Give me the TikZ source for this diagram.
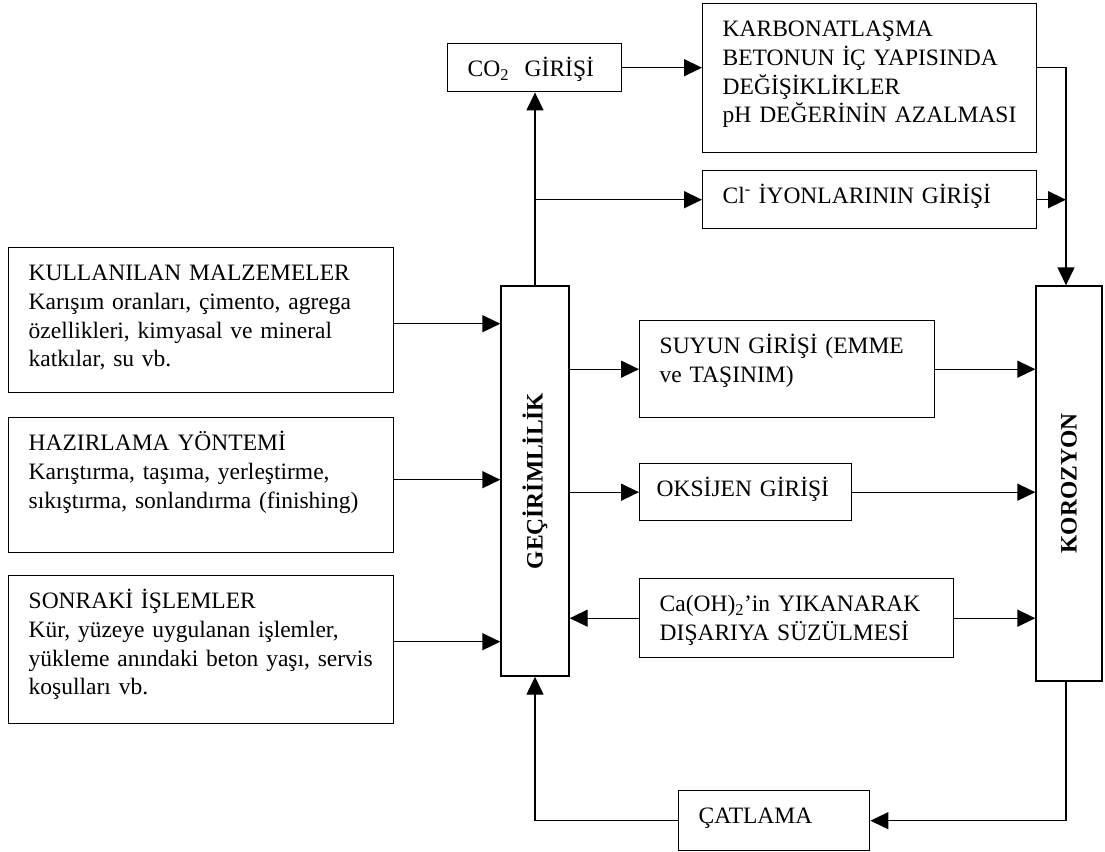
\documentclass[tikz,border=0pt]{standalone}
\usepackage{fontspec}
\setmainfont{Liberation Serif}
\usetikzlibrary{arrows.meta, positioning}
\newcommand{\yazi}{\fontsize{23.5pt}{28.7pt}\selectfont}
\tikzset{
  >={Triangle[length=18pt,width=17pt]}, % filled arrow heads
  % boxes with the text in the top left corner
  box/.style={draw, anchor=north west, align=left, font=\yazi,
    inner xsep=20pt, inner ysep=15pt, text height=18pt},
  % the two tall boxes with turned text
  bar/.style={draw, rotate=90, font=\yazi\bfseries, inner sep=0pt},
}

\begin{document}
\begin{tikzpicture}[x=1pt,y=-1pt,line width=1.4pt]
    \useasboundingbox (0,0) rectangle (1105,851);

    \node[box, text width=345pt, text depth=97pt] (malzeme) at (8,247)
      {KULLANILAN MALZEMELER\\Karışım oranları, çimento, agrega\\özellikleri, kimyasal ve mineral\\katkılar, su vb.};
    \node[box, text width=345pt, text depth=87pt] (hazirlama) at (8,417)
      {HAZIRLAMA YÖNTEMİ\\Karıştırma, taşıma, yerleştirme,\\sıkıştırma, sonlandırma (finishing)};
    \node[box, text width=345pt, text depth=100pt] (islemler) at (8,575)
      {SONRAKİ İŞLEMLER\\Kür, yüzeye uygulanan işlemler,\\yükleme anındaki beton yaşı, servis\\koşulları vb.};

    \node[bar, minimum width=390pt, minimum height=68pt] (gecirim) at (535,481) {GEÇİRİMLİLİK};
    \node[bar, minimum width=395pt, minimum height=66pt] (korozyon) at (1069,483.5) {KOROZYON};

    \node[box, text width=134pt, text depth=0pt] (co2) at (447,43) {CO\textsubscript{2}\ \ GİRİŞİ};
    \node[box, text width=294pt, text depth=101pt] (karbon) at (702,3)
      {KARBONATLAŞMA\\BETONUN İÇ YAPISINDA\\DEĞİŞİKLİKLER\\pH DEĞERİNİN AZALMASI};
    \node[box, text width=294pt, text depth=10pt] (klor) at (702,170) {Cl\textsuperscript{-} İYONLARININ GİRİŞİ};

    \node[box, text width=255pt, text depth=49pt] (su) at (639,320) {SUYUN GİRİŞİ (EMME\\ve TAŞINIM)};
    \node[box, inner xsep=17pt, text width=178pt, text depth=9pt] (oksijen) at (639,463) {OKSİJEN GİRİŞİ};
    \node[box, text width=274pt, text depth=31pt] (yikama) at (639,578)
      {Ca(OH)\textsubscript{2}’in YIKANARAK\\DIŞARIYA SÜZÜLMESİ};
    \node[box, text width=151pt, text depth=12pt] (catlama) at (678,790) {ÇATLAMA};

    \coordinate (dikey) at (1066,0); % right hand line

    % into the permeability box
    \draw[->] ([yshift=-3.5pt]malzeme.east) -- ([yshift=-3.5pt]malzeme.east -| gecirim.north);
    \draw[->] ([yshift=5.5pt]hazirlama.east) -- ([yshift=5.5pt]hazirlama.east -| gecirim.north);
    \draw[->] ([yshift=8pt]islemler.east) -- ([yshift=8pt]islemler.east -| gecirim.north);
    \draw[->] (yikama.west) -- (yikama.west -| gecirim.south);
    \draw[->] (catlama.west) -- (catlama.west -| gecirim.west) -- (gecirim.west);

    % out of the permeability box
    \draw[->] (gecirim.east) -- (gecirim.east |- co2.south);
    \draw[->] (gecirim.east |- klor.west) -- (klor.west);
    \draw[->] (su.west -| gecirim.south) -- (su.west);
    \draw[->] (oksijen.west -| gecirim.south) -- (oksijen.west);

    % towards corrosion
    \draw[->] (co2.east) -- (co2.east -| karbon.west);
    \draw[->] (co2.east -| karbon.east) -- (co2.east -| dikey) -- (dikey |- korozyon.east);
    \draw[->] (klor.east) -- (klor.east -| dikey);
    \draw[->] (su.east) -- (su.east -| korozyon.north);
    \draw[->] (oksijen.east) -- (oksijen.east -| korozyon.north);
    \draw[->] (yikama.east) -- (yikama.east -| korozyon.north);
    \draw[->] (dikey |- korozyon.west) -- (dikey |- catlama.east) -- (catlama.east);
\end{tikzpicture}
\end{document}
